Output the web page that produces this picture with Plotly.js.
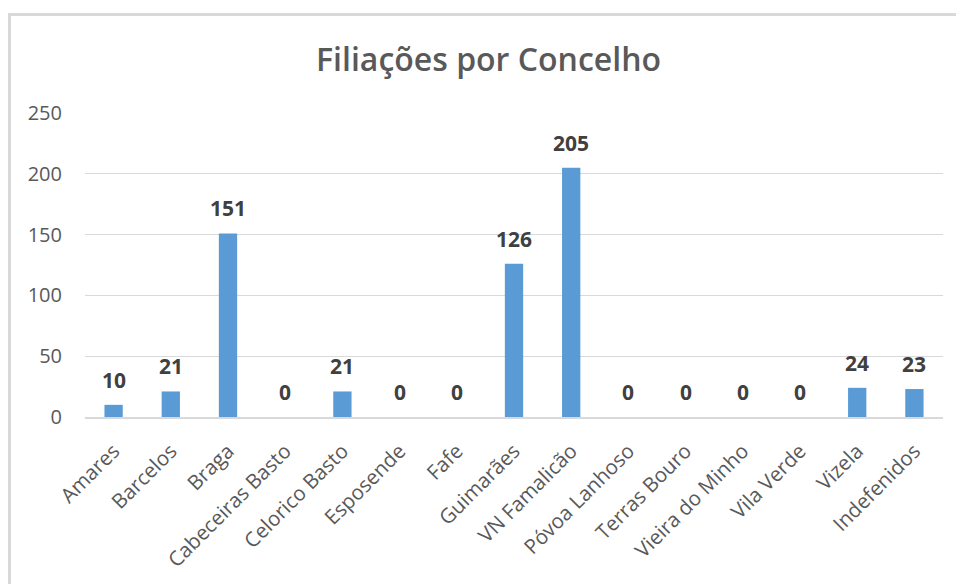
<!DOCTYPE html>
<html>
<head>
<meta charset="utf-8">
<script src="https://cdn.plot.ly/plotly-3.0.1.min.js"></script>
<style>
html,body{margin:0;padding:0;background:#fff;}
#wrap{position:relative;width:956px;height:584px;overflow:hidden;}
#chart{position:absolute;left:0;top:0;width:956px;height:584px;}
#frame{position:absolute;left:8px;top:13px;width:960px;height:600px;border-left:3px solid #d9d9d9;border-top:3px solid #d9d9d9;pointer-events:none;}
</style>
</head>
<body>
<div id="wrap"><div id="chart"></div><div id="frame"></div></div>
<script>
const categories = ["Amares","Barcelos","Braga","Cabeceiras Basto","Celorico Basto","Esposende","Fafe","Guimarães","VN Famalicão","Póvoa Lanhoso","Terras Bouro","Vieira do Minho","Vila Verde","Vizela","Indefenidos"];
const values = [10,21,151,0,21,0,0,126,205,0,0,0,0,24,23];
const yTicks = [0,50,100,150,200,250];
const chartTitle = "Filiações por Concelho";

const FONT = "Open Sans, Lato, sans-serif";

const trace = {
  type: "bar",
  x: categories,
  y: values,
  marker: {color: "#5B9BD5"},
  width: 0.32,
  hoverinfo: "x+y"
};

const annotations = categories.map((c, i) => ({
  x: c, y: values[i], xref: "x", yref: "y",
  text: "<b>" + values[i] + "</b>",
  showarrow: false, yanchor: "bottom", yshift: 9,
  font: {family: FONT, size: 21, color: "#404040"}
}));

const layout = {
  width: 956, height: 584,
  margin: {l: 85, r: 13, t: 113, b: 167},
  paper_bgcolor: "#ffffff", plot_bgcolor: "#ffffff",
  showlegend: false,
  title: {text: chartTitle, x: 0.511, xanchor: "center", y: 0.897, yanchor: "middle",
          font: {family: FONT, size: 32, color: "#595959", weight: 600}},
  xaxis: {
    type: "category", tickangle: -45,
    tickfont: {family: FONT, size: 20.5, color: "#595959"},
    showgrid: false, zeroline: false, showline: true, linecolor: "#d9d9d9", linewidth: 2,
    ticks: "", ticklen: 0, ticklabelstandoff: 12
  },
  yaxis: {
    range: [0, 250], tickvals: yTicks, ticktext: yTicks.map(String),
    tickfont: {family: FONT, size: 20, color: "#595959"},
    showgrid: true, gridcolor: "#d9d9d9", gridwidth: 1,
    zeroline: false, showline: false, ticks: "", ticklabelstandoff: 22
  },
  annotations: annotations
};

Plotly.newPlot("chart", [trace], layout, {displayModeBar: false, staticPlot: true});
</script>
</body>
</html>
